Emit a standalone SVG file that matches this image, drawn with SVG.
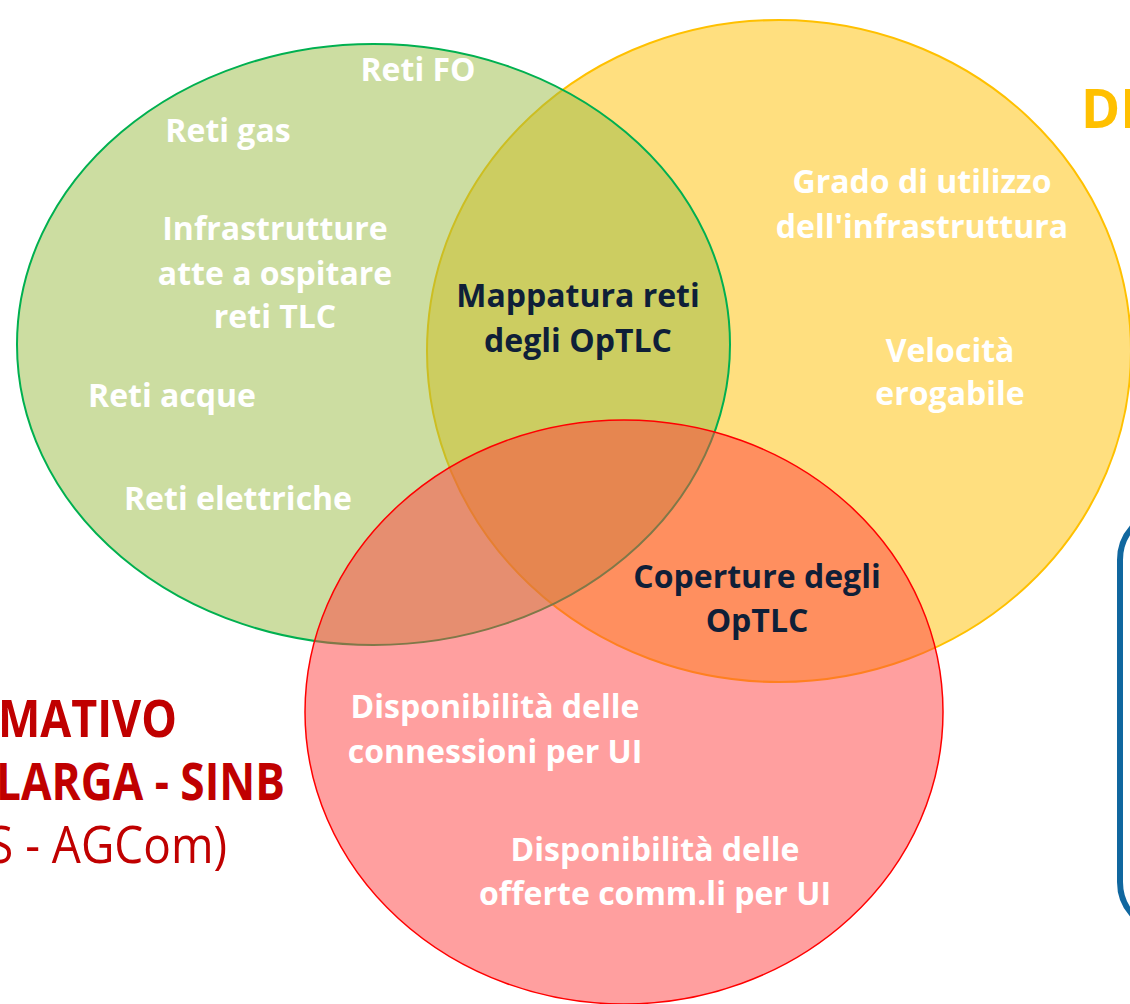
<svg xmlns="http://www.w3.org/2000/svg" width="1130" height="1004" viewBox="0 0 1130 1004">
<style>
.w{font-family:"Open Sans","Noto Sans",sans-serif;font-weight:bold;font-size:32px;fill:#FFFFFF;text-anchor:middle}
.d{font-family:"Open Sans","Noto Sans",sans-serif;font-weight:bold;font-size:32px;fill:#0F1F38;text-anchor:middle}
.r{font-family:"Open Sans","Noto Sans",sans-serif;font-size:52px;fill:#C00000}
</style>
<rect x="0" y="0" width="1130" height="1004" fill="#FFFFFF"/>
<g id="title-left">
<text class="r" x="-2" y="737" font-weight="bold" textLength="179" lengthAdjust="spacingAndGlyphs">MATIVO</text>
<text class="r" x="-4" y="800" font-weight="bold" textLength="289" lengthAdjust="spacingAndGlyphs">LARGA - SINB</text>
<text class="r" x="-12" y="863" textLength="239" lengthAdjust="spacingAndGlyphs">S - AGCom)</text>
</g>
<g id="title-right">
<text x="1081" y="128" font-family="Open Sans, Noto Sans, sans-serif" font-weight="bold" font-size="53" fill="#FFC000">DE</text>
</g>
<g id="box-right">
<rect x="1120" y="515" width="80" height="412" rx="45" ry="45" fill="#FFFFFF" stroke="#10679F" stroke-width="6"/>
</g>
<g id="set-yellow">
<ellipse cx="779" cy="351" rx="352" ry="331" fill="#FFC000" fill-opacity="0.5" stroke="#FFC000" stroke-width="2"/>
</g>
<g id="set-green">
<ellipse cx="373.5" cy="344.5" rx="356.5" ry="300.5" fill="#99BB44" fill-opacity="0.5" stroke="#00B050" stroke-width="2"/>
</g>
<g id="set-red">
<ellipse cx="624" cy="712" rx="319" ry="292" fill="#FF4040" fill-opacity="0.5" stroke="#FF0000" stroke-width="1.5"/>
</g>
<g id="connectors"></g>
<g id="labels-green">
<text class="w" x="418" y="81">Reti FO</text>
<text class="w" x="228" y="142">Reti gas</text>
<text class="w" x="275" y="240">Infrastrutture</text>
<text class="w" x="275" y="285">atte a ospitare</text>
<text class="w" x="275" y="328">reti TLC</text>
<text class="w" x="172" y="407">Reti acque</text>
<text class="w" x="238" y="510">Reti elettriche</text>
</g>
<g id="labels-yellow">
<text class="w" x="922" y="193">Grado di utilizzo</text>
<text class="w" x="922" y="238">dell'infrastruttura</text>
<text class="w" x="950" y="362">Velocità</text>
<text class="w" x="950" y="405">erogabile</text>
</g>
<g id="label-green-yellow">
<text class="d" x="578" y="307">Mappatura reti</text>
<text class="d" x="578" y="352">degli OpTLC</text>
</g>
<g id="label-yellow-red">
<text class="d" x="757" y="588">Coperture degli</text>
<text class="d" x="757" y="632">OpTLC</text>
</g>
<g id="labels-red">
<text class="w" x="495" y="718">Disponibilità delle</text>
<text class="w" x="495" y="763">connessioni per UI</text>
<text class="w" x="655" y="861">Disponibilità delle</text>
<text class="w" x="655" y="905">offerte comm.li per UI</text>
</g>
</svg>
